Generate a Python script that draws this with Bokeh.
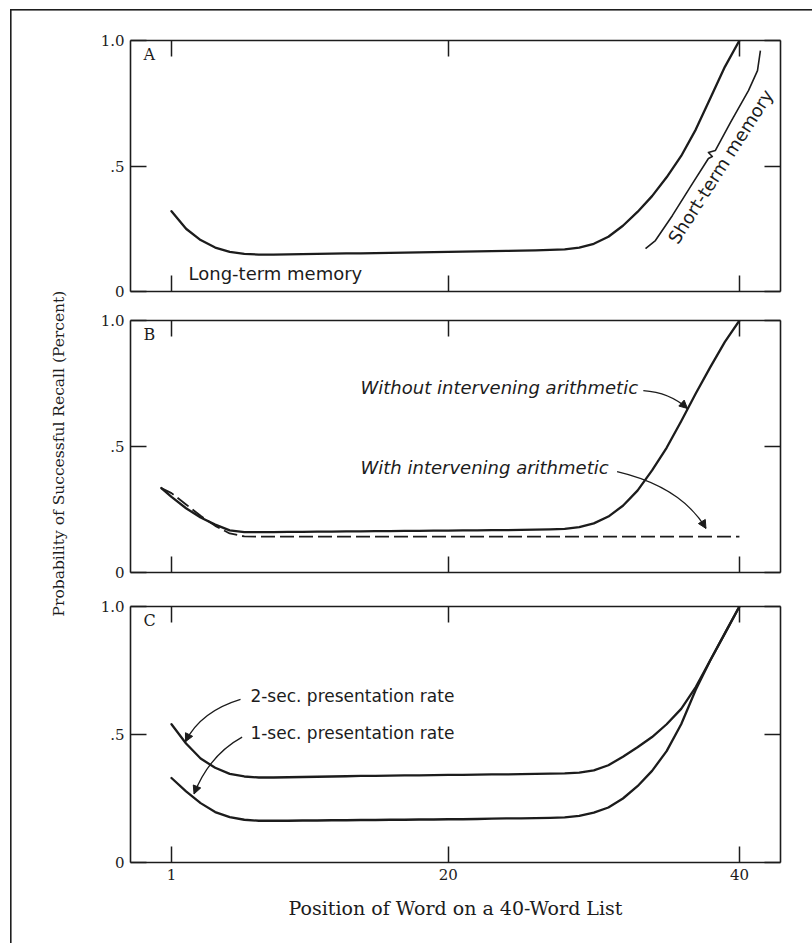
import math

from bokeh.plotting import figure
from bokeh.layouts import column, row
from bokeh.models import Range1d, FixedTicker, LinearAxis, Label, Arrow, NormalHead
from bokeh.embed import file_html
from bokeh.resources import INLINE

INK = "#1c1c1c"
SERIF = "DejaVu Serif"
SANS = "DejaVu Sans"

# ---- data -----------------------------------------------------------------
positions = list(range(1, 41))
x_ticks = [1, 20, 40]
x_tick_labels = {1: "1", 20: "20", 40: "40"}
y_ticks = [0, 0.5, 1.0]
y_tick_labels = {0: "0", 0.5: ".5", 1: "1.0"}

# Panel A: typical serial-position curve
recall_typical = [0.32, 0.25, 0.205, 0.175, 0.158, 0.150, 0.147, 0.147, 0.148, 0.149,
                  0.150, 0.151, 0.152, 0.152, 0.153, 0.154, 0.155, 0.156, 0.157, 0.158,
                  0.159, 0.160, 0.161, 0.162, 0.163, 0.164, 0.166, 0.168, 0.175, 0.190,
                  0.218, 0.262, 0.317, 0.380, 0.455, 0.540, 0.645, 0.770, 0.895, 1.0]

# Panel B: with / without intervening arithmetic
positions_b = [0.3] + positions
recall_without_arith = [0.335, 0.300, 0.255, 0.218, 0.190, 0.167, 0.160, 0.160, 0.160, 0.161,
                        0.161, 0.162, 0.162, 0.163, 0.163, 0.164, 0.164, 0.165, 0.165, 0.166,
                        0.166, 0.167, 0.167, 0.168, 0.168, 0.169, 0.170, 0.171, 0.173, 0.180,
                        0.195, 0.222, 0.265, 0.325, 0.405, 0.495, 0.600, 0.710, 0.815, 0.915,
                        1.0]
recall_with_arith = [0.335, 0.315, 0.270, 0.225, 0.185, 0.155, 0.143, 0.142, 0.142, 0.142,
                     0.142, 0.142, 0.142, 0.142, 0.142, 0.142, 0.142, 0.142, 0.142, 0.142,
                     0.142, 0.142, 0.142, 0.142, 0.142, 0.142, 0.142, 0.142, 0.142, 0.142,
                     0.142, 0.142, 0.142, 0.142, 0.142, 0.142, 0.142, 0.142, 0.142, 0.142,
                     0.142]

# Panel C: presentation rate
recall_2sec = [0.540, 0.465, 0.406, 0.370, 0.346, 0.336, 0.332, 0.332, 0.333, 0.334,
               0.335, 0.336, 0.337, 0.338, 0.338, 0.339, 0.340, 0.340, 0.341, 0.342,
               0.342, 0.343, 0.344, 0.344, 0.345, 0.346, 0.347, 0.348, 0.351, 0.360,
               0.380, 0.413, 0.450, 0.490, 0.540, 0.600, 0.685, 0.790, 0.895, 1.0]
recall_1sec = [0.330, 0.278, 0.232, 0.197, 0.177, 0.167, 0.163, 0.163, 0.163, 0.164,
               0.164, 0.165, 0.165, 0.166, 0.166, 0.167, 0.167, 0.168, 0.168, 0.169,
               0.169, 0.170, 0.171, 0.172, 0.172, 0.173, 0.174, 0.176, 0.182, 0.195,
               0.215, 0.250, 0.298, 0.358, 0.435, 0.540, 0.675, 0.790, 0.895, 1.0]

# brace marking the recency portion in panel A
brace_x = [33.55, 34.23, 35.40, 36.77, 37.87, 38.14, 37.87, 38.35, 39.38, 40.62, 41.24, 41.44]
brace_y = [0.171, 0.203, 0.303, 0.430, 0.530, 0.538, 0.554, 0.562, 0.673, 0.800, 0.880, 0.960]

# curved pointers: (start x, start y, control x, control y, tip x, tip y)
pointer_without = [33.4, 0.722, 35.2, 0.715, 36.43, 0.651]
pointer_with = [31.6, 0.400, 36.0, 0.340, 37.70, 0.175]
pointer_2sec = [5.74, 0.637, 3.0, 0.590, 1.96, 0.472]
pointer_1sec = [5.85, 0.490, 3.6, 0.420, 2.55, 0.268]

X_RANGE = (-1.815, 42.82)
Y_TITLE = "Probability of Successful Recall (Percent)"
X_TITLE = "Position of Word on a 40-Word List"


# ---- helpers --------------------------------------------------------------
def frame_axis(ticks, labels=None):
    ax = LinearAxis(ticker=FixedTicker(ticks=ticks),
                    axis_line_color=INK, axis_line_width=1.6,
                    major_tick_line_color=INK, major_tick_line_width=1.5,
                    major_tick_in=16, major_tick_out=0,
                    minor_tick_line_color=None)
    if labels:
        ax.major_label_overrides = labels
        ax.major_label_text_font = SERIF
        ax.major_label_text_font_size = "15px"
        ax.major_label_text_color = INK
        ax.major_label_standoff = 6
    else:
        # tick marks only
        ax.major_label_text_color = None
        ax.major_label_text_font_size = "1px"
        ax.major_label_standoff = 0
    return ax


def panel(height, top, bottom, letter, x_labels=False):
    p = figure(width=740, height=height, x_range=Range1d(*X_RANGE), y_range=Range1d(0, 1),
               x_axis_location=None, y_axis_location=None, toolbar_location=None,
               output_backend="svg", min_border_left=58, min_border_right=32,
               min_border_top=top, min_border_bottom=bottom)
    p.grid.visible = False
    p.outline_line_color = None
    p.background_fill_color = None
    p.border_fill_color = None
    p.add_layout(frame_axis(y_ticks, y_tick_labels), "left")
    p.add_layout(frame_axis(y_ticks), "right")
    p.add_layout(frame_axis(x_ticks), "above")
    below = frame_axis(x_ticks, x_tick_labels if x_labels else None)
    p.add_layout(below, "below")
    p.add_layout(Label(x=-0.92, y=0.945, text=letter, text_font=SERIF,
                       text_font_size="16px", text_color=INK, text_baseline="middle"))
    return p, below


def note(p, x, y, text, size="18px", italic=False, angle=0.0, align="left"):
    p.add_layout(Label(x=x, y=y, text=text, text_font=SANS, text_font_size=size,
                       text_font_style="italic" if italic else "normal",
                       text_color=INK, text_baseline="middle", text_align=align,
                       angle=angle))


def pointer(p, spec):
    x0, y0, cx, cy, x1, y1 = spec
    p.quadratic(x0=[x0], y0=[y0], cx=[cx], cy=[cy], x1=[x1], y1=[y1],
                line_color=INK, line_width=1.3)
    sx = x1 - 0.15 * (x1 - cx)
    sy = y1 - 0.15 * (y1 - cy)
    p.add_layout(Arrow(x_start=sx, y_start=sy, x_end=x1, y_end=y1,
                       line_color=INK, line_width=1.3,
                       end=NormalHead(size=8, fill_color=INK, line_color=INK)))


curve = dict(line_color=INK, line_width=2.3, line_join="round", line_cap="round")

# ---- panel A --------------------------------------------------------------
pa, _ = panel(293, 28, 14, "A")
pa.line(positions, recall_typical, **curve)
pa.line(brace_x, brace_y, line_color=INK, line_width=1.6, line_join="round")
note(pa, 2.17, 0.07, "Long-term memory")
note(pa, 38.7, 0.498, "Short-term memory", angle=math.radians(57.4), align="center")

# ---- panel B --------------------------------------------------------------
pb, _ = panel(284, 15, 17, "B")
pb.line(positions_b, recall_without_arith, **curve)
pb.line(positions_b, recall_with_arith, line_color=INK, line_width=1.8, line_dash="14 5")
note(pb, 13.98, 0.734, "Without intervening arithmetic", italic=True)
note(pb, 13.98, 0.417, "With intervening arithmetic", italic=True)
pointer(pb, pointer_without)
pointer(pb, pointer_with)

# ---- panel C --------------------------------------------------------------
pc, xaxis_c = panel(354, 17, 81, "C", x_labels=True)
pc.line(positions, recall_2sec, **curve)
pc.line(positions, recall_1sec, **curve)
note(pc, 6.42, 0.65, "2-sec. presentation rate", size="17px")
note(pc, 6.42, 0.505, "1-sec. presentation rate", size="17px")
pointer(pc, pointer_2sec)
pointer(pc, pointer_1sec)
xaxis_c.axis_label = X_TITLE
xaxis_c.axis_label_text_font = SERIF
xaxis_c.axis_label_text_font_size = "19px"
xaxis_c.axis_label_text_font_style = "normal"
xaxis_c.axis_label_text_color = INK
xaxis_c.axis_label_standoff = 14

# ---- shared vertical title in its own strip -------------------------------
strip = figure(width=60, height=931, x_range=Range1d(0, 60), y_range=Range1d(0, 931),
               x_axis_location=None, y_axis_location=None, toolbar_location=None,
               output_backend="svg", min_border=0)
strip.grid.visible = False
strip.outline_line_color = None
strip.background_fill_color = None
strip.border_fill_color = None
strip.add_layout(Label(x=46, y=490, text=Y_TITLE, text_font=SERIF, text_font_size="15.5px",
                       text_color=INK, text_align="center", text_baseline="middle",
                       angle=math.pi / 2))

# page frame drawn as thin background strokes behind transparent plots
stroke = "linear-gradient(#1e1e1e,#1e1e1e)"
frame_bg = (f"{stroke} 10px 9px / 1.6px 936px no-repeat, "
            f"{stroke} 10px 9px / 802px 1.6px no-repeat, "
            f"{stroke} 10px 944px / 802px 1.6px no-repeat, #ffffff")

layout = row(strip, column(pa, pb, pc, spacing=0), spacing=0,
             styles={"background": frame_bg, "padding-left": "12px", "padding-top": "12px"})

open("out.html", "w").write(file_html(layout, INLINE))
